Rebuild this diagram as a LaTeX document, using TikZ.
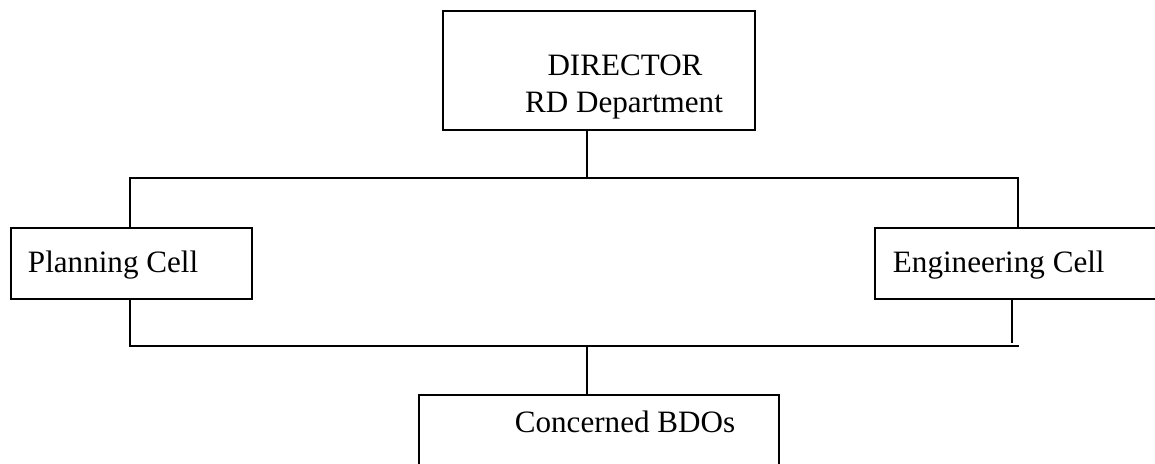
\documentclass[tikz,border=0pt]{standalone}
\usepackage{fontspec}
\setmainfont{Liberation Serif}
\usetikzlibrary{positioning}

\begin{document}
\begin{tikzpicture}[
    x=0.02cm, y=-0.02cm, line width=1.1pt,
    box/.style={draw, rectangle, anchor=north west, inner sep=0pt},
    boxtext/.style={anchor=base west, inner sep=0pt,
                    font=\fontsize{17.7}{21}\selectfont}
  ]
  \useasboundingbox (0,0) rectangle (1155,463);
  \clip (0,0) rectangle (1155,463);

  % boxes
  \node[box, minimum width=6.24cm, minimum height=2.38cm] (director) at (442,10) {};
  \node[boxtext, anchor=base] (dirname) at (625,75) {DIRECTOR};
  \node[boxtext, anchor=base] (dirdept) at (624,112) {RD Department};
  \node[box, minimum width=4.82cm, minimum height=1.42cm] (planning) at (10,227) {};
  \node[boxtext] (plantext) at (27,272) {Planning Cell};
  \node[box, minimum width=5.76cm, minimum height=1.42cm] (engineering) at (874,227) {};
  \node[boxtext] (engtext) at (892,272) {Engineering Cell};
  \node[box, minimum width=7.2cm, minimum height=2cm] (bdos) at (418,394) {};
  \node[boxtext, anchor=base] (bdotext) at (625,432) {Concerned BDOs};

  % bus lines
  \coordinate (upL) at (130,178);
  \coordinate (upM) at (587,178);
  \coordinate (upR) at (1018,178);
  \coordinate (lowL) at (130,346);
  \coordinate (lowM) at (587,346);
  \coordinate (lowR) at (1019,346);
  \coordinate (engdrop) at (1012,343);

  \draw (director.south -| upM) -- (upM);
  \draw (planning.north -| upL) -- (upL) -- (upR) -- (engineering.north -| upR);
  \draw (planning.south -| lowL) -- (lowL) -- (lowR);
  \draw (engineering.south -| engdrop) -- (engdrop);
  \draw (lowM) -- (bdos.north -| lowM);
\end{tikzpicture}
\end{document}
